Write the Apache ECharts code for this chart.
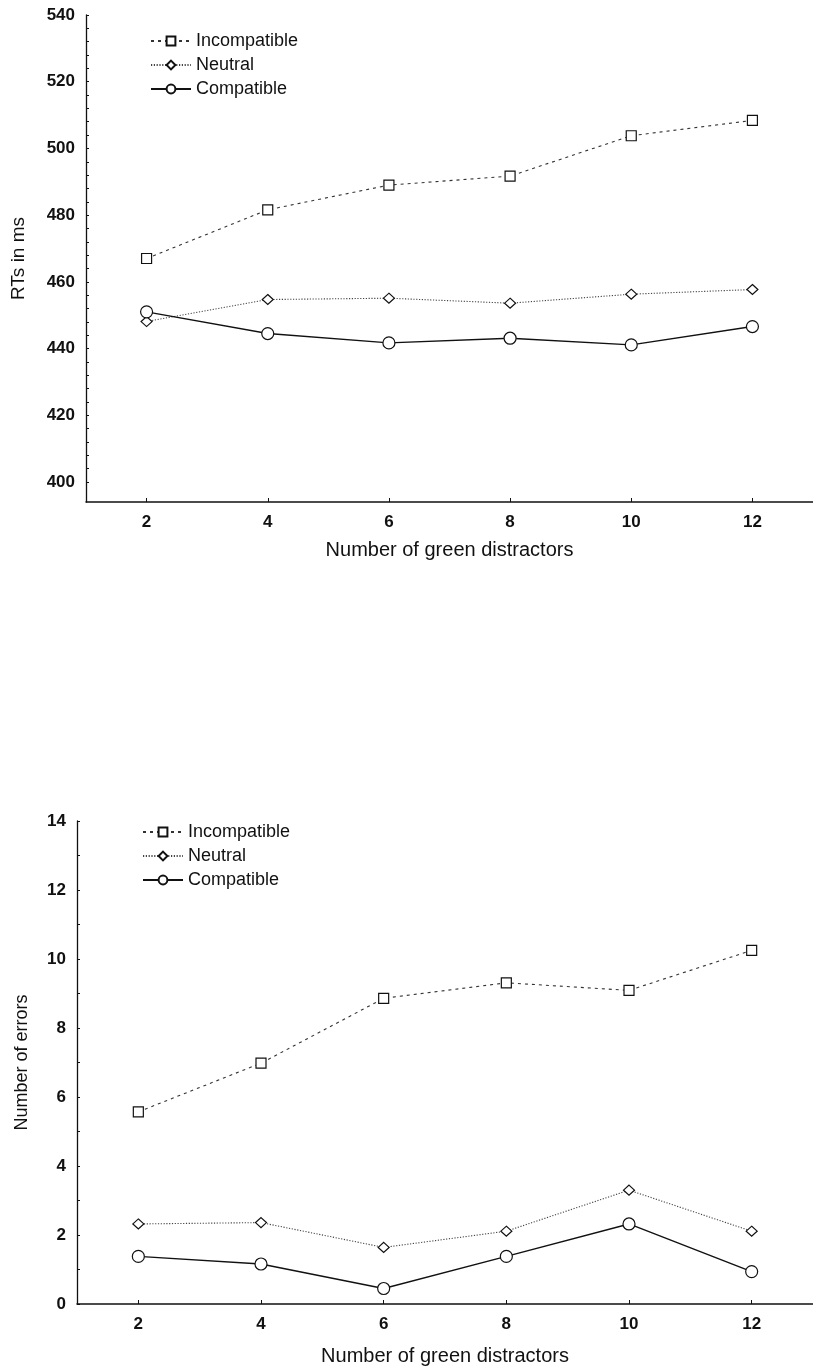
<!DOCTYPE html>
<html>
<head>
<meta charset="utf-8">
<script src="https://cdn.jsdelivr.net/npm/echarts@6/dist/echarts.min.js"></script>
<style>
  html, body { margin: 0; padding: 0; background: #fff; }
  #chart { width: 813px; height: 1367px; }
</style>
</head>
<body>
<div id="chart"></div>
<script>
// ---- data ----
const distractors = [2, 4, 6, 8, 10, 12];
const seriesNames = ['Incompatible', 'Neutral', 'Compatible'];

const rtIncompatible = [467, 481.6, 489, 491.7, 503.8, 508.4];
const rtNeutral      = [448.1, 454.7, 455.1, 453.6, 456.3, 457.7];
const rtCompatible   = [451, 444.5, 441.7, 443.1, 441.1, 446.6];

const errIncompatible = [5.57, 6.98, 8.86, 9.31, 9.09, 10.25];
const errNeutral      = [2.32, 2.36, 1.64, 2.11, 3.30, 2.11];
const errCompatible   = [1.38, 1.16, 0.45, 1.38, 2.32, 0.94];

const rtTickLabels = [400, 420, 440, 460, 480, 500, 520, 540];
const rtMinorTicks = [400, 404, 408, 412, 416, 420, 424, 428, 432, 436, 440, 444, 448, 452, 456, 460, 464, 468, 472, 476, 480, 484, 488, 492, 496, 500, 504, 508, 512, 516, 520, 524, 528, 532, 536, 540];
const xTickLabels = [2, 4, 6, 8, 10, 12];

// ---- styling ----
const FONT = '"Liberation Sans", Arial, sans-serif';
const ink = '#111';

function pairs(vals) { return distractors.map((x, i) => [x, vals[i]]); }

const styles = {
  Incompatible: { symbol: 'rect', symbolSize: [10, 10], line: { type: [3, 4], width: 1.1, color: '#333' } },
  Neutral:      { symbol: 'diamond', symbolSize: [11, 10], line: { type: [1.2, 1.6], width: 1.1, color: '#444' } },
  Compatible:   { symbol: 'circle', symbolSize: 12, line: { type: 'solid', width: 1.4, color: '#111' } }
};

function makeSeries(name, vals, idx) {
  const s = styles[name];
  return {
    name: name,
    type: 'line',
    xAxisIndex: idx,
    yAxisIndex: idx,
    data: pairs(vals),
    symbol: s.symbol,
    symbolSize: s.symbolSize,
    showAllSymbol: true,
    lineStyle: s.line,
    itemStyle: { color: '#fff', borderColor: '#111', borderWidth: 1.2 },
    emphasis: { disabled: true },
    animation: false,
    z: name === 'Compatible' ? 3 : 2
  };
}

function xAxisDef(idx, nameGap) {
  return {
    type: 'value', gridIndex: idx, min: 1, max: 13,
    name: 'Number of green distractors',
    nameLocation: 'middle', nameGap: nameGap,
    nameTextStyle: { fontFamily: FONT, fontSize: 20, color: ink },
    axisLine: { show: true, onZero: false, lineStyle: { color: ink, width: 1.5 } },
    axisTick: { show: true, inside: true, length: 4, customValues: xTickLabels, lineStyle: { color: ink } },
    axisLabel: { customValues: xTickLabels, margin: 12, fontFamily: FONT, fontSize: 17, fontWeight: 'bold', color: ink },
    splitLine: { show: false }
  };
}

const legendBase = {
  orient: 'vertical',
  itemWidth: 40, itemHeight: 11, itemGap: 6,
  textStyle: { fontFamily: FONT, fontSize: 18, color: ink },
  data: seriesNames,
  selectedMode: false
};

const option = {
  backgroundColor: '#fff',
  animation: false,
  grid: [
    { left: 86, right: -5, top: 15, height: 487 },
    { left: 77, right: -8, top: 821, height: 485 }
  ],
  legend: [
    Object.assign({}, legendBase, { left: 145, top: 27 }),
    Object.assign({}, legendBase, { left: 137, top: 818 })
  ],
  xAxis: [xAxisDef(0, 38), xAxisDef(1, 42)],
  yAxis: [
    {
      type: 'value', gridIndex: 0, min: 394, max: 540,
      name: 'RTs in ms', nameLocation: 'middle', nameGap: 58,
      nameTextStyle: { fontFamily: FONT, fontSize: 19, color: ink },
      axisLine: { show: true, lineStyle: { color: ink, width: 1.3 } },
      axisTick: { show: true, inside: true, length: 3, customValues: rtMinorTicks, lineStyle: { color: ink } },
      axisLabel: { customValues: rtTickLabels, margin: 11, fontFamily: FONT, fontSize: 17, fontWeight: 'bold', color: ink },
      splitLine: { show: false }
    },
    {
      type: 'value', gridIndex: 1, min: 0, max: 14, interval: 2,
      name: 'Number of errors', nameLocation: 'middle', nameGap: 46,
      nameTextStyle: { fontFamily: FONT, fontSize: 18, color: ink },
      axisLine: { show: true, lineStyle: { color: ink, width: 1.3 } },
      axisTick: { show: true, inside: true, length: 3, lineStyle: { color: ink } },
      minorTick: { show: true, splitNumber: 2, length: 3, lineStyle: { color: ink } },
      axisLabel: { margin: 11, fontFamily: FONT, fontSize: 17, fontWeight: 'bold', color: ink },
      splitLine: { show: false }
    }
  ],
  series: [
    makeSeries('Incompatible', rtIncompatible, 0),
    makeSeries('Neutral', rtNeutral, 0),
    makeSeries('Compatible', rtCompatible, 0),
    makeSeries('Incompatible', errIncompatible, 1),
    makeSeries('Neutral', errNeutral, 1),
    makeSeries('Compatible', errCompatible, 1)
  ]
};

const chart = echarts.init(document.getElementById('chart'), null, { renderer: 'canvas' });
chart.setOption(option);
</script>
</body>
</html>
